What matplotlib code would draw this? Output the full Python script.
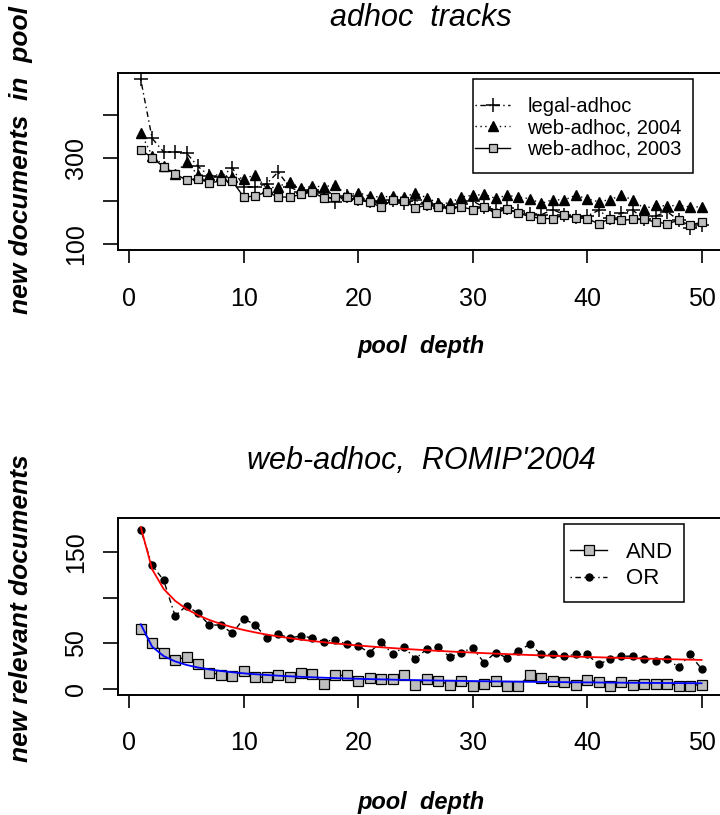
import matplotlib
matplotlib.use("Agg")
import matplotlib.pyplot as plt
from matplotlib.patches import Rectangle
import numpy as np

plt.rcParams.update({"font.family": ["Liberation Sans", "DejaVu Sans"]})

# ---------------------------------------------------------------------------
# data
# ---------------------------------------------------------------------------
depth = np.arange(1, 51)

legal_adhoc = [482, 345, 314, 314, 311, 280, 258, 255, 277, 233,
               232, 240, 267, 232, 221, 225, 218, 198, 212, 205,
               200, 196, 203, 195, 201, 193, 190, 186, 192, 200,
               185, 180, 183, 176, 170, 168, 180, 168, 162, 165,
               178, 160, 172, 178, 158, 165, 175, 155, 136, 143]

web_2004 = [358, 305, 282, 263, 291, 260, 260, 260, 256, 252,
            260, 229, 233, 244, 229, 234, 233, 237, 213, 219,
            211, 209, 211, 208, 219, 207, 195, 195, 209, 213,
            215, 206, 213, 209, 205, 194, 203, 202, 213, 205,
            198, 203, 213, 202, 182, 190, 188, 190, 186, 186]

web_2003 = [319, 300, 279, 263, 248, 252, 242, 246, 246, 209,
            211, 221, 209, 209, 215, 221, 206, 208, 209, 202,
            198, 185, 202, 200, 184, 190, 186, 182, 186, 180,
            186, 171, 182, 171, 164, 159, 159, 167, 161, 159,
            147, 159, 155, 157, 157, 151, 147, 155, 143, 151]

rel_and = [66, 50, 40, 32, 35, 28, 18, 16, 14, 20,
           13, 13, 15, 13, 18, 17, 6, 15, 15, 9,
           12, 11, 11, 15, 5, 11, 9, 5, 9, 4,
           6, 9, 4, 4, 15, 12, 9, 8, 5, 10,
           8, 4, 8, 5, 6, 6, 6, 4, 4, 5]

rel_or = [174, 135, 119, 80, 91, 83, 70, 70, 61, 77,
          70, 56, 60, 56, 58, 56, 52, 54, 49, 47,
          40, 52, 38, 46, 33, 44, 46, 35, 40, 45,
          29, 40, 34, 42, 49, 38, 38, 36, 38, 38,
          27, 33, 36, 36, 33, 31, 33, 24, 38, 22]


def power_fit(x, y):
    # least squares y = a * x^b, grid over b
    x = np.asarray(x, float)
    y = np.asarray(y, float)
    best = None
    for b in np.linspace(-1.5, 0, 1501):
        xb = x ** b
        a = np.sum(y * xb) / np.sum(xb * xb)
        sse = np.sum((y - a * xb) ** 2)
        if best is None or sse < best[0]:
            best = (sse, a, b)
    return best[1] * x ** best[2]


W, H = 720, 815
fig = plt.figure(figsize=(W / 100, H / 100), dpi=100)


def px_axes(left, top, right, bottom):
    return fig.add_axes([left / W, 1 - bottom / H, (right - left) / W, (bottom - top) / H])


def px_box(left, top, right, bottom):
    fig.patches.append(Rectangle((left / W, 1 - bottom / H), (right - left) / W,
                                 (bottom - top) / H, transform=fig.transFigure,
                                 fill=False, edgecolor="black", lw=1.1, zorder=5))


def style(ax, yticks, ylabels):
    for s in ax.spines.values():
        s.set_linewidth(1.4)
    ax.set_xticks([0, 10, 20, 30, 40, 50])
    ax.set_yticks(yticks)
    ax.set_yticklabels(ylabels)
    ax.tick_params(axis="x", direction="out", length=9.5, width=1.2, pad=17, labelsize=18)
    ax.tick_params(axis="y", direction="out", length=11, width=1.2, pad=11,
                   labelsize=18, labelrotation=90)
    for t in ax.get_yticklabels():
        t.set_va("center")


# ---------------------------------------------------------------------------
# top: adhoc tracks
# ---------------------------------------------------------------------------
ax1 = px_axes(118.3, 73, 724, 250)
ax1.plot(depth, legal_adhoc, color="black", lw=1, ls=(0, (1, 2.5, 4, 2.5)),
         marker="+", ms=10, mew=1.1, label="legal-adhoc")
ax1.plot(depth, web_2004, color="black", lw=1, ls=(0, (1, 2.5)),
         marker="^", ms=7, mfc="black", mec="black", label="web-adhoc, 2004")
ax1.plot(depth, web_2003, color="black", lw=1, ls="-",
         marker="s", ms=6, mfc="#bebebe", mec="black", mew=0.9, label="web-adhoc, 2003")
ax1.set_xlim(-0.96, 51.96)
ax1.set_ylim(86, 497)
style(ax1, [100, 200, 300, 400], ["100", "", "300", ""])
ax1.legend(loc="upper left", bbox_to_anchor=(475 / W, 1 - 97 / H),
           bbox_transform=fig.transFigure, borderaxespad=0, fontsize=14.5,
           frameon=False, handlelength=1.75, handletextpad=0.85,
           labelspacing=0.12, borderpad=0)
px_box(472.7, 79.3, 693.3, 173.3)

fig.text(421, H - 18, "adhoc  tracks", transform=None, ha="center", va="center",
         fontsize=22, style="italic")
fig.text(421, H - 347, "pool  depth", transform=None, ha="center", va="center",
         fontsize=17, style="italic", weight="bold")
fig.text(21, H - 160, "new documents  in  pool", transform=None, ha="center",
         va="center", rotation=90, fontsize=19, style="italic", weight="bold")

# ---------------------------------------------------------------------------
# bottom: web-adhoc, ROMIP'2004
# ---------------------------------------------------------------------------
ax2 = px_axes(118.3, 518.3, 724, 694.5)
ax2.plot(depth, rel_and, color="black", lw=1, ls="-",
         marker="s", ms=6.5, mfc="#bebebe", mec="black", mew=0.9, label="AND")
ax2.plot(depth, rel_or, color="black", lw=1, ls=(0, (1, 2.5, 4, 2.5)),
         marker="o", ms=5, mfc="black", mec="black", label="OR")
ax2.plot(depth, power_fit(depth, rel_and), color="blue", lw=1.3)
ax2.plot(depth, power_fit(depth, rel_or), color="red", lw=1.3)
ax2.set_xlim(-0.96, 51.96)
ax2.set_ylim(-5.8, 186.5)
style(ax2, [0, 50, 100, 150], ["0", "50", "", "150"])
ax2.legend(loc="upper left", bbox_to_anchor=(570 / W, 1 - 542 / H),
           bbox_transform=fig.transFigure, borderaxespad=0, fontsize=16,
           frameon=False, handlelength=1.68, handletextpad=0.86,
           labelspacing=0.24, borderpad=0)
px_box(564.3, 524, 684.3, 601.7)

fig.text(421, H - 461, "web-adhoc,  ROMIP'2004", transform=None, ha="center",
         va="center", fontsize=22, style="italic")
fig.text(421, H - 803, "pool  depth", transform=None, ha="center", va="center",
         fontsize=17, style="italic", weight="bold")
fig.text(21, H - 608, "new relevant documents", transform=None, ha="center",
         va="center", rotation=90, fontsize=19, style="italic", weight="bold")

fig.savefig("out.png", dpi=100)
